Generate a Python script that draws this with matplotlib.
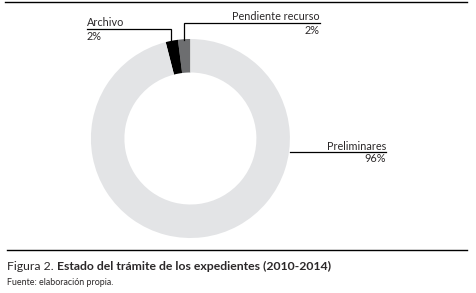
import matplotlib
matplotlib.use("Agg")
import matplotlib.pyplot as plt

categories = ["Pendiente recurso", "Archivo", "Preliminares"]
values = [2, 2, 96]
pct_labels = ["2%", "2%", "96%"]
colors = ["#6d6e70", "#000000", "#e3e4e6"]

W, H = 476, 293
fig = plt.figure(figsize=(W / 100, H / 100), dpi=100)
ax = fig.add_axes([0, 0, 1, 1])
ax.set_xlim(0, W)
ax.set_ylim(0, H)
ax.axis("off")

def Y(y):
    return H - y

cx, cy, R, ring = 190.4, 138.5, 99.5, 33.5
ax.pie(values, colors=colors, startangle=90, counterclock=True,
       center=(cx, Y(cy)), radius=R, frame=True,
       wedgeprops=dict(width=ring, linewidth=0))
ax.set_xlim(0, W)
ax.set_ylim(0, H)
ax.axis("off")
ax.set_aspect("auto")

font = "Lato"
tc = "#2b2829"
fs = 7.8

# Pendiente recurso
ax.plot([184, 184, 319.5], [Y(40), Y(23.3), Y(23.3)], color="black", lw=0.9, solid_joinstyle="miter")
ax.text(319.5, Y(20.5), categories[0], ha="right", va="baseline", fontsize=fs, family=font, color=tc)
ax.text(319.5, Y(33.5), pct_labels[0], ha="right", va="baseline", fontsize=fs, family=font, color=tc)

# Archivo
ax.plot([170.5, 170.5, 87], [Y(42), Y(29.3), Y(29.3)], color="black", lw=0.9, solid_joinstyle="miter")
ax.text(87, Y(26.5), categories[1], ha="left", va="baseline", fontsize=fs, family=font, color=tc)
ax.text(87, Y(39.5), pct_labels[1], ha="left", va="baseline", fontsize=fs, family=font, color=tc)

# Preliminares
ax.plot([290, 386], [Y(152.3), Y(152.3)], color="black", lw=0.9)
ax.text(386, Y(149.5), categories[2], ha="right", va="baseline", fontsize=fs, family=font, color=tc)
ax.text(386, Y(162.5), pct_labels[2], ha="right", va="baseline", fontsize=fs, family=font, color=tc)

# frame lines
ax.plot([5, 467], [Y(2), Y(2)], color="black", lw=1.0)
ax.plot([7, 467], [Y(250), Y(250)], color="black", lw=1.0)

# caption
t1 = ax.text(7, Y(270), "Figura 2. ", ha="left", va="baseline", fontsize=8.8, family=font, color=tc)
fig.canvas.draw()
bb = t1.get_window_extent()
x2 = bb.x1
ax.text(x2, Y(270), "Estado del trámite de los expedientes (2010-2014)", ha="left", va="baseline",
        fontsize=8.8, family=font, weight="bold", color=tc)
ax.text(7, Y(285), "Fuente: elaboración propia.", ha="left", va="baseline", fontsize=6.4, family=font, color=tc)

fig.savefig("out.png", dpi=100)
